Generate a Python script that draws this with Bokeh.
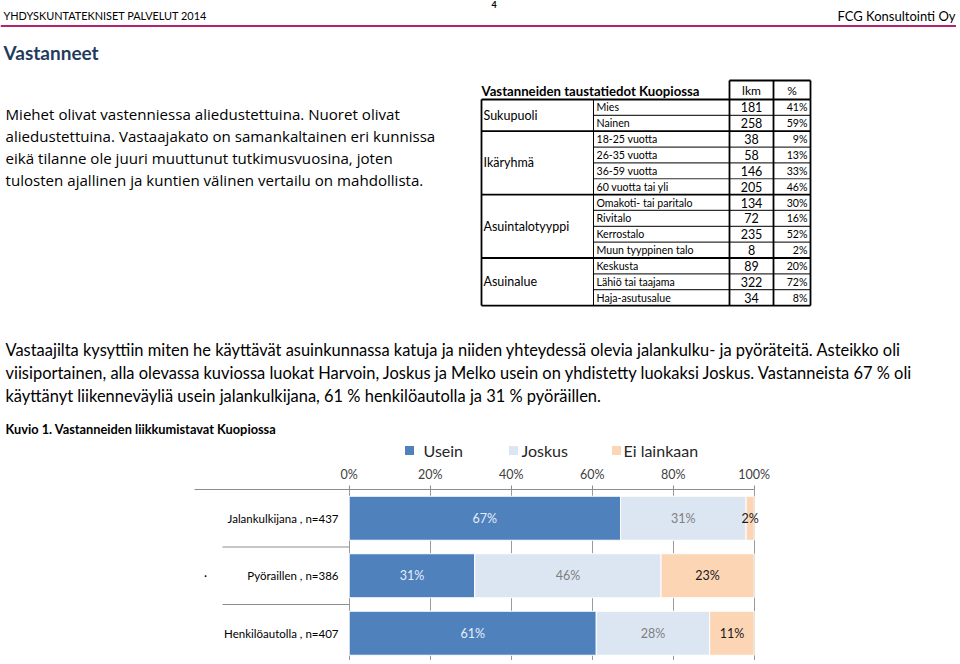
from bokeh.plotting import figure
from bokeh.models import Range1d, FixedTicker, PrintfTickFormatter, ColumnDataSource
from bokeh.layouts import column
from bokeh.core.properties import value
from bokeh.embed import file_html
from bokeh.resources import INLINE

# ---------------- data ----------------
header_left = "YHDYSKUNTATEKNISET PALVELUT 2014"
header_right = "FCG Konsultointi Oy"
page_no = "4"
heading = "Vastanneet"
para1 = [
    "Miehet olivat vastenniessa aliedustettuina. Nuoret olivat",
    "aliedustettuina. Vastaajakato on samankaltainen eri kunnissa",
    "eikä tilanne ole juuri muuttunut tutkimusvuosina, joten",
    "tulosten ajallinen ja kuntien välinen vertailu on mahdollista.",
]
para2 = [
    "Vastaajilta kysyttiin miten he käyttävät asuinkunnassa katuja ja niiden yhteydessä olevia jalankulku- ja pyöräteitä.  Asteikko oli",
    "viisiportainen, alla olevassa kuviossa luokat Harvoin, Joskus ja Melko usein on yhdistetty luokaksi Joskus. Vastanneista 67 % oli",
    "käyttänyt liikenneväyliä usein jalankulkijana, 61 % henkilöautolla ja 31 % pyöräillen.",
]
figure_title = "Kuvio 1. Vastanneiden liikkumistavat Kuopiossa"

table_title = "Vastanneiden taustatiedot Kuopiossa"
table_cols = ["lkm", "%"]
groups = ["Sukupuoli", "Ikäryhmä", "Asuintalotyyppi", "Asuinalue"]
group_sizes = [2, 4, 4, 3]
items = ["Mies", "Nainen", "18-25 vuotta", "26-35 vuotta", "36-59 vuotta",
         "60 vuotta tai yli", "Omakoti- tai paritalo", "Rivitalo", "Kerrostalo",
         "Muun tyyppinen talo", "Keskusta", "Lähiö tai taajama", "Haja-asutusalue"]
counts = [181, 258, 38, 58, 146, 205, 134, 72, 235, 8, 89, 322, 34]
shares = [41, 59, 9, 13, 33, 46, 30, 16, 52, 2, 20, 72, 8]

modes = ["Jalankulkijana , n=437", "Pyöraillen , n=386", "Henkilöautolla , n=407"]
series = ["Usein", "Joskus", "Ei lainkaan"]
usein = [67, 31, 61]
joskus = [31, 46, 28]
ei_lainkaan = [2, 23, 11]
x_ticks = [0, 20, 40, 60, 80, 100]

colors = ["#4F81BD", "#DCE6F2", "#FCD5B5"]
label_colors = ["#E6EEF8", "#7F7F7F", "#1A1A1A"]

FONT = "Lato"
FONT2 = "Open Sans"


def txt(p, x, y, s, size, font=FONT, style="normal", color="#000000",
        align="left", baseline="middle"):
    p.text(x=[x], y=[y], text=[s], text_font=value(font),
           text_font_size=f"{size}px", text_font_style=style,
           text_color=color, text_align=align, text_baseline=baseline)


# ---------------- page figure (pixel coordinates) ----------------
W = 956
H1 = 462
H2 = 198
p1 = figure(width=W, height=H1, x_range=Range1d(0, W), y_range=Range1d(H1, 0),
            output_backend="svg", toolbar_location=None, min_border=0,
            x_axis_location=None, y_axis_location=None, outline_line_color=None)
for r in list(p1.center):
    r.visible = False

# header
txt(p1, 3, 15, header_left, 10.9)
txt(p1, 955, 15, header_right, 13, align="right")
txt(p1, 491, 4, page_no, 9, style="bold")
p1.segment(x0=[0], y0=[25.5], x1=[956], y1=[25.5], line_color="#B5236F", line_width=2)

txt(p1, 3, 52, heading, 19, style="bold", color="#1F3B5E")

for i, line in enumerate(para1):
    txt(p1, 5, 113 + 22 * i, line, 15.1, font=FONT2)

for i, line in enumerate(para2):
    txt(p1, 5, 349 + 23 * i, line, 16.45)

txt(p1, 5, 428, figure_title, 12.8, style="bold")

# table
T_TOP = 99.0
PITCH = 15.85
XL, XG, XI, XC, XR = 481, 593, 729, 773, 810
n_rows = len(items)
T_BOT = T_TOP + n_rows * PITCH

txt(p1, XL, 90, table_title, 13.2, style="bold")
txt(p1, (XI + XC) / 2, 90, table_cols[0], 12, align="center")
txt(p1, (XC + XR) / 2, 90, table_cols[1], 12, align="center")

starts = [0]
for s in group_sizes:
    starts.append(starts[-1] + s)
inner_y = [T_TOP + r * PITCH for r in range(1, n_rows) if r not in starts]
p1.segment(x0=[XG] * len(inner_y), y0=inner_y, x1=[XR] * len(inner_y), y1=inner_y,
           line_color="#303030", line_width=1.2)
gy = [T_TOP + s * PITCH for s in starts]
p1.segment(x0=[XL] * len(gy), y0=gy, x1=[XR] * len(gy), y1=gy,
           line_color="#000000", line_width=1.8)
p1.segment(x0=[XI, XI, XC, XR], y0=[80, 80, 80, 80], x1=[XR, XI, XC, XR],
           y1=[80, T_TOP, T_TOP, T_TOP], line_color="#000000", line_width=1.8)
p1.segment(x0=[XL, XG, XI, XC, XR], y0=[T_TOP] * 5, x1=[XL, XG, XI, XC, XR],
           y1=[T_BOT] * 5, line_color="#000000", line_width=[1.8, 1, 1.8, 1.8, 1.8])

for i in range(n_rows):
    yc = T_TOP + (i + 0.5) * PITCH
    txt(p1, XG + 3, yc, items[i], 10.6)
    txt(p1, (XI + XC) / 2, yc, str(counts[i]), 12.5, align="center")
    txt(p1, XR - 3, yc, f"{shares[i]}%", 10.6, align="right")
for g, name in enumerate(groups):
    yc = T_TOP + (starts[g] + starts[g + 1]) / 2 * PITCH
    txt(p1, XL + 2, yc, name, 12.5)

# legend
leg_sq = [409, 513, 616]
leg_tx = [423, 521, 623]
p1.scatter(x=leg_sq, y=[450] * 3, marker="square", size=9, fill_color=colors,
           line_color=None)
for k in range(3):
    txt(p1, leg_tx[k], 450, series[k], 16, color="#262626")

# ---------------- chart figure ----------------
PX_PER_PCT = 4.05
X0_PAGE = 348.7
xr = Range1d((0 - X0_PAGE) / PX_PER_PCT, (W - X0_PAGE) / PX_PER_PCT)
BAND = 57.5
TOP_BORDER = 27
yr = Range1d(-0.5 + (H2 - TOP_BORDER) / BAND, -0.5)

p2 = figure(width=W, height=H2, x_range=xr, y_range=yr, output_backend="svg",
            toolbar_location=None, x_axis_location="above", y_axis_location=None,
            min_border_left=0, min_border_right=0, min_border_bottom=0,
            min_border_top=TOP_BORDER, outline_line_color=None)

ax = p2.xaxis[0]
ax.ticker = FixedTicker(ticks=x_ticks)
ax.formatter = PrintfTickFormatter(format="%d%%")
ax.bounds = ((194 - X0_PAGE) / PX_PER_PCT, 100)
ax.axis_line_color = "#8C8C8C"
ax.major_tick_line_color = "#8C8C8C"
ax.major_tick_out = 4
ax.major_tick_in = 0
ax.minor_tick_line_color = None
ax.major_label_standoff = 4
ax.major_label_text_font = FONT
ax.major_label_text_font_size = "12.5px"
ax.major_label_text_color = "#404040"

p2.xgrid.ticker = FixedTicker(ticks=x_ticks)
p2.xgrid.grid_line_color = "#9A9A9A"
p2.ygrid.visible = False

idx = list(range(len(modes)))
left1 = [0] * 3
right1 = usein
left2 = usein
right2 = [a + b for a, b in zip(usein, joskus)]
left3 = right2
right3 = [a + b for a, b in zip(right2, ei_lainkaan)]
segs = [(left1, right1, usein), (left2, right2, joskus), (left3, right3, ei_lainkaan)]

for k, (lf, rt, vals) in enumerate(segs):
    src = ColumnDataSource(dict(y=idx, left=lf, right=rt,
                                xc=[(a + b) / 2 for a, b in zip(lf, rt)],
                                lab=[f"{v}%" for v in vals]))
    p2.hbar(y="y", left="left", right="right", height=44 / BAND, source=src,
            fill_color=colors[k], line_color="white", line_width=1)
    p2.text(x="xc", y="y", text="lab", source=src, text_font=value(FONT),
            text_font_size="12.5px", text_color=label_colors[k], text_align="center",
            text_baseline="middle")

sep_x0 = (222 - X0_PAGE) / PX_PER_PCT
p2.segment(x0=[sep_x0] * 3, y0=[0.5, 1.5, 2.5], x1=[0] * 3, y1=[0.5, 1.5, 2.5],
           line_color="#8C8C8C", line_width=1)

p2.text(x=[(338 - X0_PAGE) / PX_PER_PCT] * 3, y=idx, text=modes,
        text_font=value(FONT), text_font_size="11.5px", text_color="#000000",
        text_align="right", text_baseline="middle")
p2.text(x=[(205 - X0_PAGE) / PX_PER_PCT], y=[1], text=["·"], text_font=value(FONT),
        text_font_size="12px", text_color="#000000", text_align="center",
        text_baseline="middle")

layout = column(p1, p2, spacing=0)
open("out.html", "w").write(file_html(layout, INLINE))
